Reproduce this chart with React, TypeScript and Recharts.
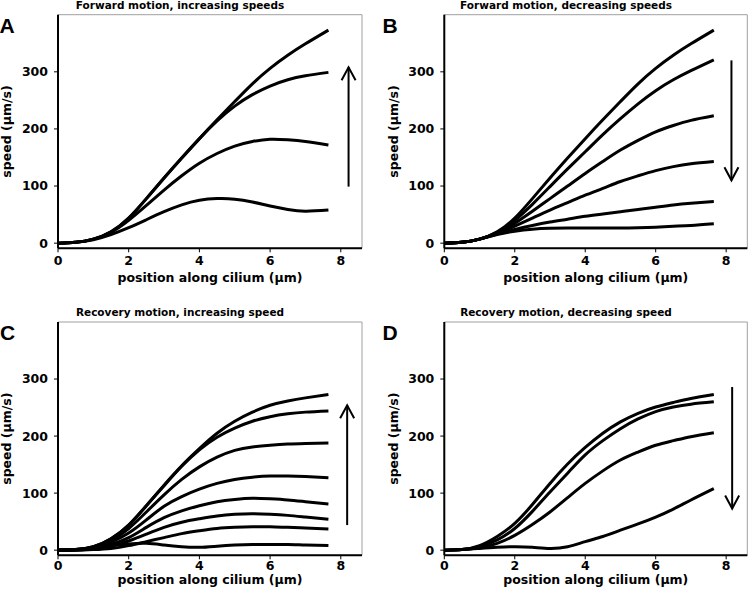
import React from 'react';
import { LineChart, Line, XAxis, YAxis, ReferenceLine, ReferenceArea } from 'recharts';

// position along cilium (µm)
const positions = [0, 0.5, 1, 1.5, 2, 2.5, 3, 3.5, 4, 4.5, 5, 5.5, 6, 6.5, 7, 7.65];

// Panel A: Forward motion, increasing speeds
const A1 = [0, 1.5, 7, 20, 44, 78, 114, 149, 183, 216, 248, 279, 306, 329, 349, 373];
const A2 = [0, 1.5, 7, 20, 44, 78, 114, 149, 183, 214, 240, 260, 275, 286, 293, 299];
const A3 = [0, 1.5, 7, 19, 40, 66, 93, 118, 140, 157, 170, 178, 182, 181, 178, 172];
const A4 = [0, 1.5, 6, 15, 27, 41, 55, 67, 75, 78, 77, 72, 65, 59, 56, 58];

// Panel B: Forward motion, decreasing speeds
const B1 = [0, 1.5, 7, 20, 44, 78, 114, 149, 183, 216, 248, 279, 306, 329, 349, 373];
const B2 = [0, 1.5, 7, 19, 40, 68, 99, 130, 160, 190, 218, 244, 267, 286, 302, 321];
const B3 = [0, 1.5, 7, 18, 35, 56, 78, 100, 122, 143, 163, 180, 195, 206, 215, 223];
const B4 = [0, 1.5, 7, 17, 30, 44, 58, 71, 84, 96, 108, 118, 127, 134, 139, 143];
const B5 = [0, 1.5, 7, 16, 24, 31, 37, 42, 47, 51, 55, 59, 63, 67, 70, 73];
const B6 = [0, 1.5, 7, 15, 21, 24.5, 26, 26.5, 26.5, 26.5, 26.5, 27, 28, 29.5, 31, 34];

// Panel C: Recovery motion, increasing speed
const C1 = [0, 1, 6, 20, 44, 78, 114, 148, 178, 205, 226, 242, 254, 261.5, 267, 273];
const C2 = [0, 1, 6, 20, 44, 78, 113, 147, 176, 198, 214, 226, 234, 239, 242, 244];
const C3 = [0, 1, 5, 17, 38, 67, 97, 124, 146, 163, 175, 181, 184, 186, 187, 188];
const C4 = [0, 1, 4, 14, 30, 53, 77, 94, 107, 117, 124, 128, 130, 130, 129, 127];
const C5 = [0, 0.5, 3, 10, 22, 40, 57, 69, 78, 85, 89, 91, 90, 88, 85, 81];
const C6 = [0, 0.5, 2, 7, 16, 28, 40, 49, 55, 60, 63, 64, 63, 61, 58, 54];
const C7 = [0, 0, 1, 3, 8, 15, 22, 29, 34, 38, 40, 41, 41, 40, 39, 37];
const C8 = [0, 1, 4, 8, 11, 12, 9, 6, 5, 7, 9, 10, 10, 10, 9, 8];

// Panel D: Recovery motion, decreasing speed
const D1 = [0, 1, 8, 24, 47, 80, 117, 151, 180, 205, 225, 240, 251, 259, 266, 273];
const D2 = [0, 1, 6, 18, 38, 68, 102, 135, 167, 192, 213, 230, 243, 251, 256, 260];
const D3 = [0, 1, 4, 12, 26, 45, 67, 92, 117, 139, 158, 172, 184, 192, 199, 206];
const D4 = [0, 1, 3, 5, 6, 5, 3, 6, 15, 24, 35, 46, 58, 72, 88, 108];

// arrows: [x, from, to]
const arrowA = [8.22, 99, 308];
const arrowB = [8.15, 320, 110];
const arrowC = [8.18, 44, 254];
const arrowD = [8.17, 286, 73];

const titles = [
  'Forward motion, increasing speeds',
  'Forward motion, decreasing speeds',
  'Recovery motion, increasing speed',
  'Recovery motion, decreasing speed',
];
const letters = ['A', 'B', 'C', 'D'];
const xTicks = [0, 2, 4, 6, 8];
const yTicks = [0, 100, 200, 300];
const xDomain = [0, 8.6];
const yDomain = [-9, 400];

const FONT = 'DejaVu Sans';

function buildRows(series: number[][]) {
  return positions.map((x, i) => {
    const row: any = { x };
    series.forEach((s, k) => {
      row['s' + k] = s[i];
    });
    return row;
  });
}

const ArrowShape = (props: any) => {
  const { x1, y1, x2, y2 } = props;
  const dir = y2 < y1 ? 1 : -1;
  const hw = 7;
  const hl = 13;
  return (
    <g>
      <line x1={x1} y1={y1} x2={x2} y2={y2} stroke="#000" strokeWidth={2} />
      <polyline
        points={`${x2 - hw},${y2 + dir * hl} ${x2},${y2} ${x2 + hw},${y2 + dir * hl}`}
        fill="none"
        stroke="#000"
        strokeWidth={2}
      />
    </g>
  );
};

const tickStyle = { fill: '#000', fontSize: 12.5, fontWeight: 'bold', fontFamily: FONT };
const labelStyle = { fill: '#000', fontSize: 12.5, fontWeight: 'bold', fontFamily: FONT };

function Panel(props: {
  series: number[][];
  arrow: number[];
  left: number;
  top: number;
  margin: any;
  xHeight: number;
  xTickMargin: number;
  xLabelOffset: number;
}) {
  const { series, arrow, left, top, margin, xHeight, xTickMargin, xLabelOffset } = props;
  const data = buildRows(series);
  return (
    <div style={{ position: 'absolute', left, top, width: 375, height: 297 }}>
      <LineChart width={375} height={297} data={data} margin={margin}>
        <ReferenceArea
          x1={xDomain[0]}
          x2={xDomain[1]}
          y1={yDomain[0]}
          y2={yDomain[1]}
          fill="none"
          fillOpacity={0}
          stroke="#a0a0a0"
          strokeWidth={1}
          ifOverflow="visible"
        />
        <XAxis
          type="number"
          dataKey="x"
          domain={xDomain}
          ticks={xTicks}
          height={xHeight}
          tick={tickStyle}
          tickSize={4}
          tickMargin={xTickMargin}
          tickLine={{ stroke: '#000', strokeWidth: 1 }}
          axisLine={{ stroke: '#000', strokeWidth: 2 }}
          label={{ value: 'position along cilium (µm)', position: 'insideTop', offset: xLabelOffset, style: labelStyle }}
        />
        <YAxis
          type="number"
          domain={yDomain}
          ticks={yTicks}
          width={58}
          tick={tickStyle}
          tickSize={4}
          tickMargin={6}
          tickLine={{ stroke: '#000', strokeWidth: 1 }}
          axisLine={{ stroke: '#000', strokeWidth: 2 }}
          label={{ value: 'speed (µm/s)', angle: -90, position: 'center', dx: -22, style: labelStyle }}
        />
        {series.map((_, k) => (
          <Line
            key={k}
            type="natural"
            dataKey={'s' + k}
            stroke="#000"
            strokeWidth={3}
            dot={false}
            activeDot={false}
            isAnimationActive={false}
          />
        ))}
        <ReferenceLine
          segment={[
            { x: arrow[0], y: arrow[1] },
            { x: arrow[0], y: arrow[2] },
          ]}
          ifOverflow="visible"
          shape={ArrowShape}
        />
      </LineChart>
    </div>
  );
}

export default function App() {
  const titlePos = [
    [180, 9],
    [566, 9],
    [180, 315.5],
    [566, 315.5],
  ];
  const letterPos = [
    [-0.5, 33],
    [382.5, 33],
    [0, 340],
    [382.5, 340],
  ];
  return (
    <div style={{ position: 'absolute', left: 0, top: 0, width: 750, height: 594, background: '#fff' }}>
      <Panel series={[A1, A2, A3, A4]} arrow={arrowA} left={0} top={0}
        margin={{ top: 14.7, right: 13, bottom: 0, left: 0 }} xHeight={48.7} xTickMargin={4} xLabelOffset={24.5} />
      <Panel series={[B1, B2, B3, B4, B5, B6]} arrow={arrowB} left={375} top={0}
        margin={{ top: 14.7, right: 2.7, bottom: 0, left: 11.3 }} xHeight={48.7} xTickMargin={4} xLabelOffset={24.5} />
      <Panel series={[C1, C2, C3, C4, C5, C6, C7, C8]} arrow={arrowC} left={0} top={297}
        margin={{ top: 25, right: 13, bottom: 0, left: 0 }} xHeight={38.7} xTickMargin={2} xLabelOffset={20} />
      <Panel series={[D1, D2, D3, D4]} arrow={arrowD} left={375} top={297}
        margin={{ top: 25, right: 2.7, bottom: 0, left: 11.3 }} xHeight={38.7} xTickMargin={2} xLabelOffset={20} />
      <svg width={750} height={594} style={{ position: 'absolute', left: 0, top: 0, pointerEvents: 'none' }}>
        {titles.map((t, i) => (
          <text key={t} x={titlePos[i][0]} y={titlePos[i][1]} textAnchor="middle"
            fontFamily={FONT} fontWeight="bold" fontSize={10.5} fill="#000">{t}</text>
        ))}
        {letters.map((l, i) => (
          <text key={l} x={letterPos[i][0]} y={letterPos[i][1]}
            fontFamily="Liberation Sans" fontWeight="bold" fontSize={21} fill="#000">{l}</text>
        ))}
      </svg>
    </div>
  );
}
